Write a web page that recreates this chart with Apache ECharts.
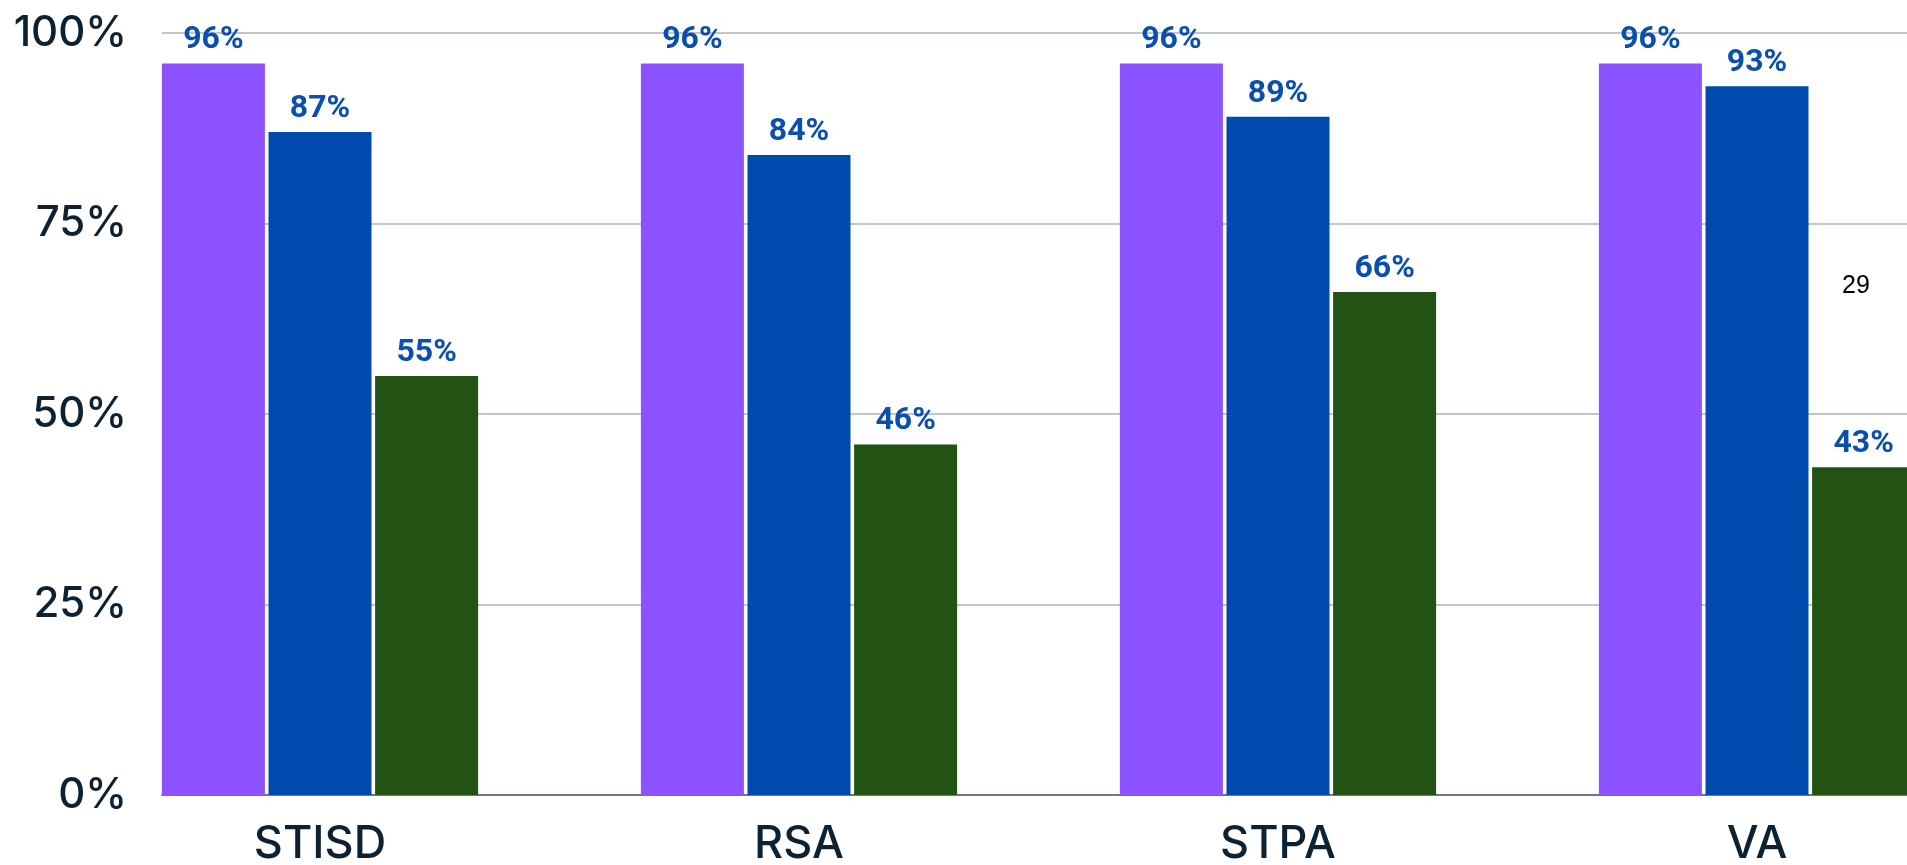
<!DOCTYPE html>
<html>
<head>
<meta charset="utf-8">
<script src="https://cdn.jsdelivr.net/npm/echarts@6/dist/echarts.min.js"></script>
<style>
html,body{margin:0;padding:0;background:#fff;}
#chart{width:1907px;height:865px;}
</style>
</head>
<body>
<div id="chart"></div>
<script>
const categories = ['STISD', 'RSA', 'STPA', 'VA'];
const seriesA = [96, 96, 96, 96];
const seriesB = [87, 84, 89, 93];
const seriesC = [55, 46, 66, 43];
const yTicks = [0, 25, 50, 75, 100];
const strayLabel = '29';

const colors = ['#8c52ff', '#004aad', '#225214'];
const labelColor = '#0a4fb0';
const axisTextColor = '#0c2233';

const chart = echarts.init(document.getElementById('chart'), null, {renderer: 'canvas'});

function barSeries(name, data, color) {
  return {
    name: name,
    type: 'bar',
    xAxisIndex: 0,
    yAxisIndex: 0,
    data: data,
    barWidth: 103,
    barGap: '3.5%',
    itemStyle: {color: color},
    label: {
      show: true,
      position: 'top',
      distance: 7,
      formatter: '{c}%',
      color: labelColor,
      fontSize: 32,
      fontWeight: 'bold',
      fontFamily: 'Roboto, "Liberation Sans", sans-serif'
    },
    z: 3
  };
}

const option = {
  backgroundColor: '#ffffff',
  animation: false,
  grid: [
    {left: 80.5, width: 1916, top: 33, bottom: 70, outerBoundsMode: 'none', containLabel: false},
    {left: 162, right: 0, top: 33, bottom: 70, outerBoundsMode: 'none', containLabel: false}
  ],
  xAxis: [
    {
      type: 'category',
      gridIndex: 0,
      data: categories,
      axisLine: {show: false},
      axisTick: {show: false},
      axisLabel: {
        margin: 27,
        fontSize: 45,
        fontWeight: 500,
        color: axisTextColor,
        fontFamily: 'Inter, "Noto Sans", sans-serif'
      }
    },
    {
      type: 'category',
      gridIndex: 1,
      data: categories,
      axisLine: {show: true, lineStyle: {color: '#6b7b86', width: 2}},
      axisTick: {show: false},
      axisLabel: {show: false},
      z: 1
    }
  ],
  yAxis: [
    {type: 'value', gridIndex: 0, min: yTicks[0], max: yTicks[yTicks.length - 1], interval: 25, show: false},
    {
      type: 'value',
      gridIndex: 1,
      min: yTicks[0],
      max: yTicks[yTicks.length - 1],
      interval: 25,
      axisLine: {show: false},
      axisTick: {show: false},
      axisLabel: {
        margin: 35,
        formatter: '{value}%',
        fontSize: 42,
        fontWeight: 500,
        color: axisTextColor,
        fontFamily: 'Inter, "Noto Sans", sans-serif'
      },
      splitLine: {show: true, lineStyle: {color: '#c0c6cc', width: 2}}
    }
  ],
  series: [
    barSeries('A', seriesA, colors[0]),
    barSeries('B', seriesB, colors[1]),
    barSeries('C', seriesC, colors[2])
  ],
  graphic: [
    {
      type: 'text',
      left: 1842,
      top: 274,
      z: 10,
      style: {
        text: strayLabel,
        fontSize: 25,
        fill: '#000000',
        fontFamily: '"Liberation Sans", Arial, sans-serif'
      }
    }
  ]
};

chart.setOption(option);
</script>
</body>
</html>
